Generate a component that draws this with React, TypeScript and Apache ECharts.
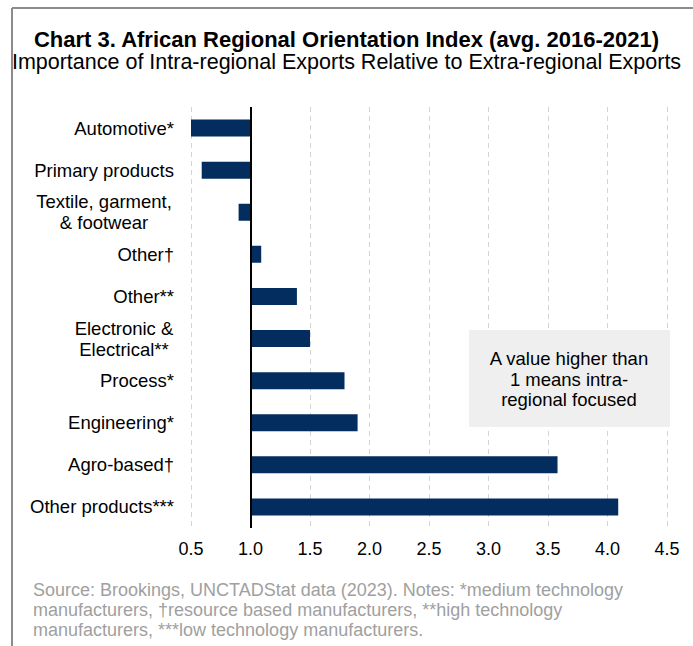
import React, { useEffect, useRef } from "react";
import * as echarts from "echarts";

const categories = [
  "Automotive*",
  "Primary products",
  "Textile, garment,\n& footwear",
  "Other†",
  "Other**",
  "Electronic &\nElectrical**",
  "Process*",
  "Engineering*",
  "Agro-based†",
  "Other products***",
];
const values = [0.5, 0.59, 0.9, 1.09, 1.39, 1.5, 1.79, 1.9, 3.58, 4.09];
const baseline = 1;
const xTicks = { min: 0.5, max: 4.5, interval: 0.5 };

const titleText = "Chart 3. African Regional Orientation Index (avg. 2016-2021)";
const subtitleText = "Importance of Intra-regional Exports Relative to Extra-regional Exports";
const noteText =
  "Source: Brookings, UNCTADStat data (2023). Notes: *medium technology\nmanufacturers, †resource based manufacturers, **high technology\nmanufacturers, ***low technology manufacturers.";
const boxText = "A value higher than\n1 means intra-\nregional focused";

const FONT = "'Liberation Sans', Arial, sans-serif";

export default function App() {
  const ref = useRef<HTMLDivElement>(null);
  useEffect(() => {
    if (!ref.current) return;
    const chart = echarts.init(ref.current, null, { renderer: "svg" });
    const baseData = values.map((v) => Math.min(v, baseline));
    const barData = values.map((v) => Math.abs(v - baseline));
    chart.setOption({
      animation: false,
      textStyle: { fontFamily: FONT },
      title: [
        {
          text: titleText,
          left: "center",
          top: 23,
          textStyle: { fontFamily: FONT, fontSize: 22, fontWeight: "bold", color: "#000" },
        },
        {
          text: subtitleText,
          left: "center",
          top: 46,
          textStyle: { fontFamily: FONT, fontSize: 21.5, fontWeight: "normal", color: "#000" },
        },
      ],
      grid: { left: 191, right: 26, top: 107, bottom: 118, containLabel: false },
      xAxis: {
        type: "value",
        min: xTicks.min,
        max: xTicks.max,
        interval: xTicks.interval,
        axisLine: { show: false },
        axisTick: { show: false },
        axisLabel: {
          margin: 12,
          fontSize: 18,
          color: "#000",
          fontFamily: FONT,
          formatter: (v: number) => v.toFixed(1),
        },
        splitLine: { show: true, lineStyle: { type: [5, 4], color: "#d4d4d4", width: 1 } },
      },
      yAxis: {
        type: "category",
        inverse: true,
        data: categories,
        axisLine: { show: false },
        axisTick: { show: false },
        axisLabel: {
          margin: 17,
          fontSize: 18.5,
          color: "#000",
          fontFamily: FONT,
          lineHeight: 21,
          align: "right",
          formatter: (v: string) => {
            if (v.indexOf("\n") < 0) return v;
            const key = v.startsWith("Textile") ? "t" : "e";
            return v
              .split("\n")
              .map((l) => `{${key}|${l}}`)
              .join("\n");
          },
          rich: {
            t: { width: 140, align: "center", fontSize: 18.5, lineHeight: 21, fontFamily: FONT, color: "#000" },
            e: { width: 100, align: "center", fontSize: 18.5, lineHeight: 21, fontFamily: FONT, color: "#000" },
          },
        },
      },
      series: [
        {
          type: "bar",
          stack: "s",
          data: baseData,
          barWidth: 17,
          itemStyle: { color: "transparent" },
          silent: true,
        },
        {
          type: "bar",
          stack: "s",
          data: barData,
          barWidth: 17,
          itemStyle: { color: "#022d5e" },
          markLine: {
            silent: true,
            symbol: "none",
            label: { show: false },
            lineStyle: { color: "#000", width: 2, type: "solid" },
            data: [{ xAxis: baseline }],
          },
        },
      ],
      graphic: [
        {
          type: "line",
          shape: { x1: 12, y1: 8, x2: 693, y2: 8 },
          style: { stroke: "#8c8c8c", lineWidth: 2 },
        },
        {
          type: "line",
          shape: { x1: 12, y1: 8, x2: 12, y2: 646 },
          style: { stroke: "#8c8c8c", lineWidth: 2 },
        },
        {
          type: "rect",
          shape: { x: 469, y: 330, width: 201, height: 97 },
          style: { fill: "#efefef" },
          z: 10,
        },
        {
          type: "text",
          x: 569,
          y: 379,
          z: 11,
          style: {
            text: boxText,
            fontFamily: FONT,
            fontSize: 18.5,
            lineHeight: 20.5,
            fill: "#000",
            align: "center",
            verticalAlign: "middle",
          },
        },
        {
          type: "text",
          x: 33,
          y: 580,
          style: {
            text: noteText,
            fontFamily: FONT,
            fontSize: 18,
            lineHeight: 20,
            fill: "#a0a0a0",
            align: "left",
            verticalAlign: "top",
          },
        },
      ],
    });
    return () => chart.dispose();
  }, []);
  return <div ref={ref} style={{ width: 693, height: 646, position: "absolute", left: 0, top: 0 }} />;
}
